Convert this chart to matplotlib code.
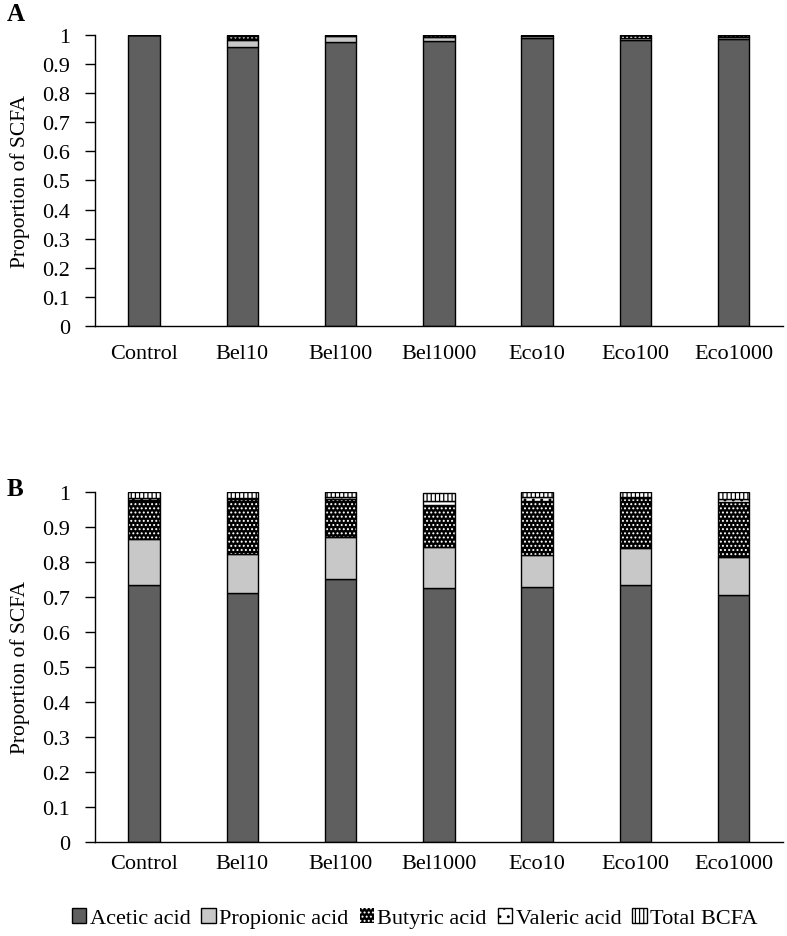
import matplotlib
matplotlib.use("Agg")
import matplotlib.pyplot as plt
from matplotlib.patches import Patch
import numpy as np

groups = ["Control", "Bel10", "Bel100", "Bel1000", "Eco10", "Eco100", "Eco1000"]
acids = ["Acetic acid", "Propionic acid", "Butyric acid", "Valeric acid", "Total BCFA"]

# panel A
acetic_a = [1.000, 0.958, 0.975, 0.980, 0.990, 0.983, 0.985]
propionic_a = [0.000, 0.025, 0.020, 0.012, 0.005, 0.007, 0.008]
butyric_a = [0.000, 0.012, 0.005, 0.008, 0.005, 0.010, 0.007]
valeric_a = [0.000, 0.005, 0.000, 0.000, 0.000, 0.000, 0.000]
bcfa_a = [0.000, 0.000, 0.000, 0.000, 0.000, 0.000, 0.000]

# panel B
acetic_b = [0.735, 0.711, 0.751, 0.726, 0.729, 0.734, 0.704]
propionic_b = [0.131, 0.112, 0.121, 0.116, 0.091, 0.106, 0.111]
butyric_b = [0.110, 0.155, 0.108, 0.121, 0.155, 0.142, 0.156]
valeric_b = [0.005, 0.004, 0.004, 0.012, 0.009, 0.003, 0.009]
bcfa_b = [0.019, 0.018, 0.016, 0.022, 0.016, 0.015, 0.020]

plt.rcParams["font.family"] = ["Liberation Serif", "DejaVu Serif"]
plt.rcParams["hatch.linewidth"] = 0.9

# (face, hatch color, hatch)
styles = [
    ("#5f5f5f", "black", None),
    ("#c8c8c8", "black", None),
    ("black", "white", "...."),
    ("white", "black", ".."),
    ("white", "black", "||||"),
]
FS = 16


def draw(ax, series, xpad):
    x = np.arange(len(groups))
    bottom = np.zeros(len(groups))
    for vals, (fc, hc, hatch) in zip(series, styles):
        vals = np.asarray(vals)
        if hatch:
            ax.bar(x, vals, 0.32, bottom=bottom, facecolor=fc, edgecolor=hc,
                   hatch=hatch, linewidth=0)
            ax.bar(x, vals, 0.32, bottom=bottom, fill=False, edgecolor="black",
                   linewidth=1.0)
        else:
            ax.bar(x, vals, 0.32, bottom=bottom, facecolor=fc, edgecolor="black",
                   linewidth=1.0)
        bottom += vals
    ax.set_xlim(-0.5, len(groups) - 0.5)
    ax.set_ylim(0, 1)
    ax.set_yticks(np.arange(0, 1.01, 0.1))
    ax.set_yticklabels(["0"] + [f"{v:.1f}" for v in np.arange(0.1, 0.95, 0.1)] + ["1"])
    ax.set_xticks(x)
    ax.set_xticklabels(groups)
    ax.tick_params(axis="y", direction="out", length=7, width=1, labelsize=FS, pad=11)
    ax.tick_params(axis="x", length=0, labelsize=FS, pad=xpad)
    ax.spines["top"].set_visible(False)
    ax.spines["right"].set_visible(False)
    ax.spines["left"].set_linewidth(1)
    ax.spines["bottom"].set_linewidth(1)
    ax.set_ylabel("Proportion of SCFA", fontsize=15.5, labelpad=9)


fig = plt.figure(figsize=(7.87, 9.37), dpi=100)
ax_a = fig.add_axes([0.1207, 0.651, 0.874, 0.3106])
ax_b = fig.add_axes([0.1207, 0.1006, 0.874, 0.3735])

draw(ax_a, [acetic_a, propionic_a, butyric_a, valeric_a, bcfa_a], 13)
draw(ax_b, [acetic_b, propionic_b, butyric_b, valeric_b, bcfa_b], 9)

fig.text(0.008, 0.984, "A", fontsize=18, fontweight="bold", va="center")
fig.text(0.008, 0.478, "B", fontsize=18, fontweight="bold", va="center")

handles = [Patch(facecolor=fc, edgecolor=("black" if not hatch else hc),
                 hatch=hatch, linewidth=(1.0 if not hatch or hc == "black" else 0))
           for fc, hc, hatch in styles]

fig.legend(handles, acids, loc="center", bbox_to_anchor=(0.527, 0.019), ncol=5,
           frameon=False, fontsize=FS, handlelength=0.65, handleheight=0.65,
           handletextpad=0.15, columnspacing=0.5)

fig.savefig("out.png", dpi=100)
